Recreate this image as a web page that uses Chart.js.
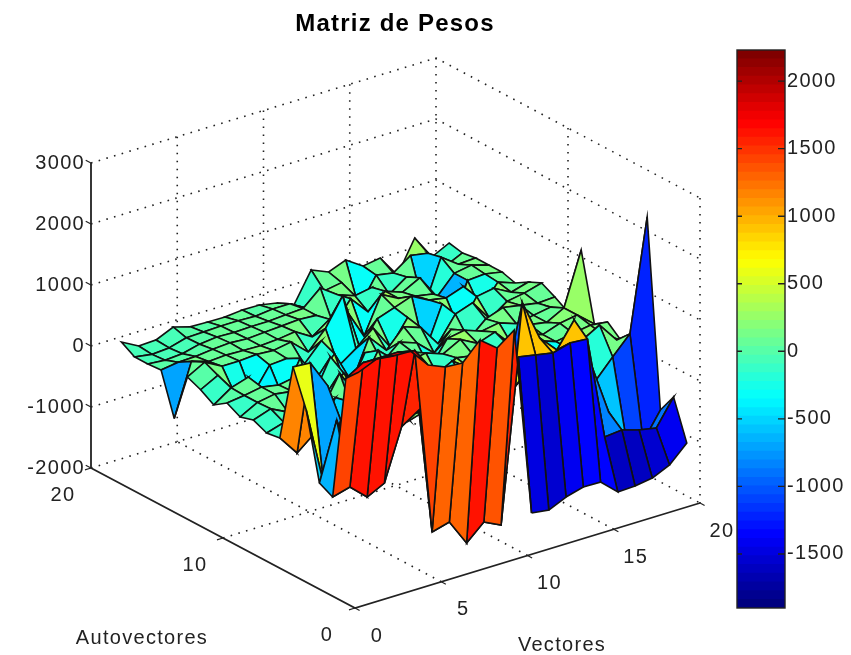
<!DOCTYPE html>
<html>
<head>
<meta charset="utf-8">
<title>Matriz de Pesos</title>
<script src="https://cdn.jsdelivr.net/npm/chart.js@4/dist/chart.umd.min.js"></script>
<style>
  html, body { margin: 0; background: #fff; }
  #surface { position: absolute; left: 0; top: 0; }
  #colorbar { position: absolute; left: 720px; top: 40px; }
</style>
</head>
<body>
<canvas id="surface" width="851" height="655"></canvas>
<canvas id="colorbar" width="131" height="580"></canvas>
<script>
/* ================= DATA ================= */
// una fila por autovector (1..19), una columna por vector (1..20)
const fila01 = [1669,1790,1760,1750,1439,1320,1300,1590,1373,1582,-1505,-1542,-1415,-1337,-1341,-1590,-1578,-1533,-1405,-1131];
const fila02 = [1450,1620,1620,1620,1560,-1500,-1423,-1853,-1595,-1730,939,886,832,910,890,-804,-775,-861,-914,-492];
const fila03 = [-611,-533,-783,-640,200,385,400,600,300,200,-1000,1624,964,680,1086,262,-595,-1100,-1250,-820];
const fila04 = [-496,451,-400,300,250,200,150,100,150,100,50,500,300,100,200,150,-200,106,400,2230];
const fila05 = [586,-700,246,-300,100,250,-100,200,100,300,-200,150,-100,150,100,200,356,516,184,180];
const fila06 = [1177,1156,700,-350,200,-150,100,300,150,-250,100,200,-200,100,150,-300,100,200,150,-16];
const fila07 = [-102,-434,-200,-500,150,-300,250,100,-100,150,300,100,-400,150,100,200,100,150,197,164];
const fila08 = [-135,-50,-100,-300,100,-200,200,-300,100,200,-100,150,100,-150,100,200,100,200,250,16];
const fila09 = [-37,60,-80,50,-200,300,-150,200,-100,150,200,100,250,100,200,-100,150,100,250,1115];
const fila10 = [-102,50,100,60,150,-150,100,-200,300,50,100,-250,150,200,100,150,50,100,150,-16];
const fila11 = [12,50,100,50,100,-300,250,-400,150,-100,150,50,-200,100,-150,100,200,150,100,115];
const fila12 = [-134,60,150,-400,-350,200,-200,100,-450,200,-100,200,100,-250,150,250,-100,100,150,230];
const fila13 = [0,150,-250,-350,60,80,-100,200,-300,-100,150,-250,150,-500,200,-300,150,200,50,131];
const fila14 = [94,250,100,100,120,100,150,-100,200,650,-300,100,200,300,150,100,200,-250,100,0];
const fila15 = [-700,150,60,80,70,60,80,120,-50,150,200,-300,300,150,100,50,-650,100,120,66];
const fila16 = [-20,20,30,60,80,60,80,100,120,100,-150,200,-100,150,50,200,-200,100,150,66];
const fila17 = [-37,-60,-40,30,60,50,60,60,80,100,350,150,50,100,-100,100,-500,250,50,66];
const fila18 = [-37,-80,-60,20,30,40,40,30,60,60,-100,100,150,-350,100,50,250,200,-100,33];
const fila19 = [94,-57,-45,82,0,-8,-12,16,12,-41,-160,328,209,320,135,180,-185,336,-60,82];
const pesos = [fila01,fila02,fila03,fila04,fila05,fila06,fila07,fila08,fila09,fila10,
               fila11,fila12,fila13,fila14,fila15,fila16,fila17,fila18,fila19];

const zTicks = [3000, 2000, 1000, 0, -1000, -2000];
const vectoresTicks = [0, 5, 10, 15, 20];
const autovectoresTicks = [0, 10, 20];
const colorbarTicks = [2000, 1500, 1000, 500, 0, -500, -1000, -1500];
const colorMin = -1900;
const colorMax = 2230;

/* ================= HELPERS ================= */
const FONT = '"Liberation Sans", Arial, sans-serif';

// vista 3D de la figura: vector, autovector, peso -> plano de la figura
function project(v, a, z) {
  return {
    x: 355 + 17.25 * v - 13.2 * a,
    y: 608 - 5.25 * v - 7 * a - 0.061 * (z + 2000)
  };
}

function jet(t) {
  const f = (c) => Math.round(255 * Math.max(0, Math.min(1, 1.5 - Math.abs(4 * t - c))));
  return `rgb(${f(3)},${f(2)},${f(1)})`;
}

function colorOf(z) {
  const t = (z - colorMin) / (colorMax - colorMin);
  return jet(Math.floor(Math.min(0.999, Math.max(0, t)) * 64) / 63);
}

function lineDataset(points, color, width, dash) {
  return {
    data: points,
    showLine: true,
    fill: false,
    borderColor: color,
    borderWidth: width,
    borderDash: dash || [],
    pointRadius: 0,
    tension: 0
  };
}

/* ================= SURFACE ================= */
function buildDatasets() {
  const front = [];
  const cells = [];
  const grid = [];
  const dots = [1.6, 6.4];

  // ejes
  front.push(lineDataset([project(0, 20, 3000), project(0, 20, -2000), project(0, 0, -2000), project(20, 0, -2000)], "#222", 1.8));
  zTicks.forEach(z => front.push(lineDataset([project(0, 20, z), project(0, 20.4, z)], "#222", 1.2)));
  vectoresTicks.forEach(v => front.push(lineDataset([project(v, 0, -2000), project(v, -0.35, -2000)], "#222", 1.2)));
  autovectoresTicks.forEach(a => front.push(lineDataset([project(0, a, -2000), project(-0.35, a, -2000)], "#222", 1.2)));

  // caras: la primera del array queda arriba, asi que van de adelante hacia atras
  for (let a = 0; a < pesos.length - 1; a++) {
    for (let v = 0; v < pesos[a].length - 1; v++) {
      const corners = [
        project(v + 1, a + 1, pesos[a][v]),
        project(v + 2, a + 1, pesos[a][v + 1]),
        project(v + 2, a + 2, pesos[a + 1][v + 1]),
        project(v + 1, a + 2, pesos[a + 1][v]),
        project(v + 1, a + 1, pesos[a][v])
      ];
      cells.push({
        data: corners,
        showLine: true,
        fill: "shape",
        backgroundColor: colorOf(pesos[a][v]),
        borderColor: "#111",
        borderWidth: 1.6,
        pointRadius: 0,
        tension: 0
      });
    }
  }

  // grilla punteada
  zTicks.forEach(z => {
    grid.push(lineDataset([project(0, 20, z), project(20, 20, z), project(20, 0, z)], "#222", 1.6, dots));
  });
  [5, 10, 15, 20].forEach(v => grid.push(lineDataset([project(v, 20, 3000), project(v, 20, -2000)], "#222", 1.6, dots)));
  [10, 0].forEach(a => grid.push(lineDataset([project(20, a, 3000), project(20, a, -2000)], "#222", 1.6, dots)));
  [5, 10, 15].forEach(v => grid.push(lineDataset([project(v, 0, -2000), project(v, 20, -2000)], "#222", 1.6, dots)));
  grid.push(lineDataset([project(0, 10, -2000), project(20, 10, -2000)], "#222", 1.6, dots));

  return front.concat(cells, grid);
}

const axisText = {
  id: "axisText",
  afterDraw(chart) {
    const ctx = chart.ctx;
    const sx = chart.scales.x;
    const sy = chart.scales.y;
    const put = (text, p, dx, dy, align) => {
      ctx.textAlign = align || "center";
      ctx.fillText(text, sx.getPixelForValue(p.x) + dx, sy.getPixelForValue(p.y) + dy);
    };
    ctx.save();
    ctx.fillStyle = "#222";
    ctx.textBaseline = "middle";
    ctx.font = `20px ${FONT}`;
    ctx.letterSpacing = "1.3px";
    zTicks.forEach(z => put(String(z), project(0, 20, z), -6, 0, "right"));
    vectoresTicks.forEach(v => put(String(v), project(v, 0, -2000), 22, 28));
    autovectoresTicks.forEach(a => put(String(a), project(0, a, -2000), -28, 27));
    put("Autovectores", { x: 142, y: 638 }, 0, 0);
    put("Vectores", { x: 562, y: 645 }, 0, 0);
    ctx.fillStyle = "#000";
    ctx.font = `bold 24px ${FONT}`;
    ctx.letterSpacing = "1.2px";
    put("Matriz de Pesos", { x: 395, y: 24 }, 0, 0);
    ctx.restore();
  }
};

new Chart(document.getElementById("surface"), {
  type: "scatter",
  data: { datasets: buildDatasets() },
  options: {
    responsive: false,
    animation: false,
    events: [],
    layout: { padding: 0 },
    plugins: { legend: { display: false }, tooltip: { enabled: false } },
    scales: {
      x: { type: "linear", min: 0, max: 851, display: false },
      y: { type: "linear", min: 0, max: 655, reverse: true, display: false }
    }
  },
  plugins: [axisText]
});

/* ================= COLORBAR ================= */
function colorbarDatasets() {
  const sets = [];
  const step = (colorMax - colorMin) / 64;
  for (let i = 0; i < 64; i++) {
    sets.push({
      // cada banda se mete un poco debajo de la anterior para que no queden rayas
      data: [[colorMin + (i - (i ? 0.5 : 0)) * step, colorMin + (i + 1) * step]],
      backgroundColor: jet(i / 63),
      borderWidth: 0,
      grouped: false,
      barPercentage: 1,
      categoryPercentage: 1
    });
  }
  return sets;
}

const colorbarFrame = {
  id: "colorbarFrame",
  afterDraw(chart) {
    const { ctx, chartArea: area, scales } = chart;
    ctx.save();
    ctx.strokeStyle = "#222";
    ctx.lineWidth = 1.4;
    ctx.strokeRect(area.left, area.top, area.right - area.left, area.bottom - area.top);
    ctx.fillStyle = "#222";
    ctx.font = `20px ${FONT}`;
    ctx.letterSpacing = "1.3px";
    ctx.textAlign = "left";
    ctx.textBaseline = "middle";
    colorbarTicks.forEach(t => {
      const y = scales.y.getPixelForValue(t);
      ctx.beginPath();
      ctx.moveTo(area.left, y);
      ctx.lineTo(area.left + 5, y);
      ctx.moveTo(area.right - 7, y);
      ctx.lineTo(area.right, y);
      ctx.stroke();
      ctx.fillText(String(t), area.right + 2, y);
    });
    ctx.restore();
  }
};

new Chart(document.getElementById("colorbar"), {
  type: "bar",
  data: { labels: [""], datasets: colorbarDatasets() },
  options: {
    responsive: false,
    animation: false,
    events: [],
    layout: { padding: { left: 17, top: 10, bottom: 12, right: 0 } },
    plugins: { legend: { display: false }, tooltip: { enabled: false } },
    scales: {
      x: { display: false },
      y: {
        position: "right",
        min: colorMin,
        max: colorMax,
        afterBuildTicks(axis) { axis.ticks = colorbarTicks.map(value => ({ value })); },
        afterFit(axis) { axis.width = 66; },
        border: { display: false },
        grid: { drawOnChartArea: false, drawTicks: false },
        ticks: { display: false }
      }
    }
  },
  plugins: [colorbarFrame]
});
</script>
</body>
</html>
